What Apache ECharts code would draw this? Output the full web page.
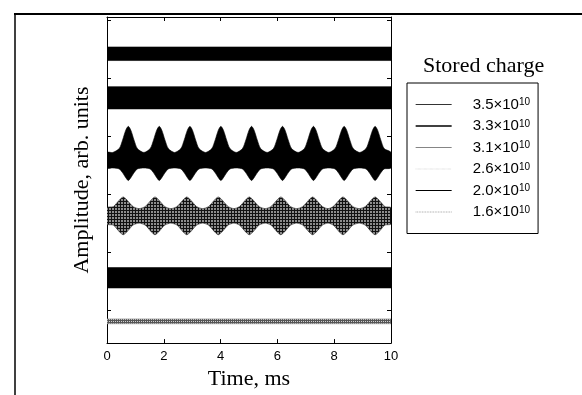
<!DOCTYPE html>
<html>
<head>
<meta charset="utf-8">
<script src="https://cdn.jsdelivr.net/npm/echarts@6/dist/echarts.min.js"></script>
<style>
  html, body { margin: 0; padding: 0; background: #fff; }
  #main { width: 582px; height: 395px; }
</style>
</head>
<body>
<div id="main"></div>
<script>
// time axis ticks (ms)
const xTicks = [0, 2, 4, 6, 8, 10];
// inner tick marks on the amplitude axis (no labels)
const yTicks = [3.4, 9.4, 15.4, 21.4, 27.4, 33.4];

// stored charge values for the legend (x10^10)
const charges = ['3.5', '3.3', '3.1', '2.6', '2.0', '1.6'];

// flat bands: start / end times, lower and upper envelope
const tFlat = [0, 10];
const lo35 = [29.2, 29.2], hi35 = [30.6, 30.6];
const lo33 = [24.2, 24.2], hi33 = [26.5, 26.5];
const lo20 = [5.7, 5.7],   hi20 = [7.8, 7.8];
const lo16 = [2.0, 2.0],   hi16 = [2.5, 2.5];

// 3.1x10^10 : modulated band, envelope
const t31 = [0, 0.2,
  0.43, 0.55, 0.66, 0.75, 0.84, 0.95, 1.07, 1.30,
  1.52, 1.64, 1.75, 1.84, 1.93, 2.04, 2.16, 2.38,
  2.60, 2.72, 2.83, 2.92, 3.01, 3.12, 3.24, 3.47,
  3.69, 3.81, 3.92, 4.01, 4.10, 4.21, 4.33, 4.55,
  4.77, 4.89, 5.00, 5.09, 5.18, 5.29, 5.41, 5.64,
  5.86, 5.98, 6.09, 6.18, 6.27, 6.38, 6.50, 6.73,
  6.95, 7.07, 7.18, 7.27, 7.36, 7.47, 7.59, 7.81,
  8.03, 8.15, 8.26, 8.35, 8.44, 8.55, 8.67, 8.90,
  9.12, 9.24, 9.35, 9.44, 9.53, 9.64, 9.76, 10];
const hi31 = [19.7, 19.7,
  20.1, 21.0, 22.0, 22.4, 22.0, 21.0, 20.1, 19.7,
  20.1, 21.0, 22.0, 22.4, 22.0, 21.0, 20.1, 19.7,
  20.1, 21.0, 22.0, 22.4, 22.0, 21.0, 20.1, 19.7,
  20.1, 21.0, 22.0, 22.4, 22.0, 21.0, 20.1, 19.7,
  20.1, 21.0, 22.0, 22.4, 22.0, 21.0, 20.1, 19.7,
  20.1, 21.0, 22.0, 22.4, 22.0, 21.0, 20.1, 19.7,
  20.1, 21.0, 22.0, 22.4, 22.0, 21.0, 20.1, 19.7,
  20.1, 21.0, 22.0, 22.4, 22.0, 21.0, 20.1, 19.7,
  20.1, 21.0, 22.0, 22.4, 22.0, 21.0, 20.1, 19.7];
const lo31 = [18.1, 18.1,
  18.0, 17.6, 17.1, 16.8, 17.1, 17.6, 18.0, 18.1,
  18.0, 17.6, 17.1, 16.8, 17.1, 17.6, 18.0, 18.1,
  18.0, 17.6, 17.1, 16.8, 17.1, 17.6, 18.0, 18.1,
  18.0, 17.6, 17.1, 16.8, 17.1, 17.6, 18.0, 18.1,
  18.0, 17.6, 17.1, 16.8, 17.1, 17.6, 18.0, 18.1,
  18.0, 17.6, 17.1, 16.8, 17.1, 17.6, 18.0, 18.1,
  18.0, 17.6, 17.1, 16.8, 17.1, 17.6, 18.0, 18.1,
  18.0, 17.6, 17.1, 16.8, 17.1, 17.6, 18.0, 18.1,
  18.0, 17.6, 17.1, 16.8, 17.1, 17.6, 18.0, 18.1];

// 2.6x10^10 : grey modulated band
const t26 = [0,
  0.22, 0.35, 0.47, 0.57, 0.67, 0.79, 0.92, 1.13,
  1.34, 1.47, 1.59, 1.69, 1.79, 1.91, 2.04, 2.25,
  2.46, 2.59, 2.71, 2.81, 2.91, 3.03, 3.16, 3.37,
  3.57, 3.70, 3.82, 3.92, 4.02, 4.14, 4.27, 4.47,
  4.66, 4.79, 4.91, 5.01, 5.11, 5.23, 5.36, 5.57,
  5.77, 5.90, 6.02, 6.12, 6.22, 6.34, 6.47, 6.68,
  6.89, 7.02, 7.14, 7.24, 7.34, 7.46, 7.59, 7.78,
  7.96, 8.09, 8.21, 8.31, 8.41, 8.53, 8.66, 8.88,
  9.09, 9.22, 9.34, 9.44, 9.54, 9.66, 9.79, 10];
const hi26 = [14.0,
  14.1, 14.5, 14.9, 15.1, 14.9, 14.5, 14.1, 13.9,
  14.1, 14.5, 14.9, 15.1, 14.9, 14.5, 14.1, 13.9,
  14.1, 14.5, 14.9, 15.1, 14.9, 14.5, 14.1, 13.9,
  14.1, 14.5, 14.9, 15.1, 14.9, 14.5, 14.1, 13.9,
  14.1, 14.5, 14.9, 15.1, 14.9, 14.5, 14.1, 13.9,
  14.1, 14.5, 14.9, 15.1, 14.9, 14.5, 14.1, 13.9,
  14.1, 14.5, 14.9, 15.1, 14.9, 14.5, 14.1, 13.9,
  14.1, 14.5, 14.9, 15.1, 14.9, 14.5, 14.1, 13.9,
  14.1, 14.5, 14.9, 15.1, 14.9, 14.5, 14.1, 14.0];
const lo26 = [12.3,
  12.2, 11.8, 11.4, 11.2, 11.4, 11.8, 12.2, 12.4,
  12.2, 11.8, 11.4, 11.2, 11.4, 11.8, 12.2, 12.4,
  12.2, 11.8, 11.4, 11.2, 11.4, 11.8, 12.2, 12.4,
  12.2, 11.8, 11.4, 11.2, 11.4, 11.8, 12.2, 12.4,
  12.2, 11.8, 11.4, 11.2, 11.4, 11.8, 12.2, 12.4,
  12.2, 11.8, 11.4, 11.2, 11.4, 11.8, 12.2, 12.4,
  12.2, 11.8, 11.4, 11.2, 11.4, 11.8, 12.2, 12.4,
  12.2, 11.8, 11.4, 11.2, 11.4, 11.8, 12.2, 12.4,
  12.2, 11.8, 11.4, 11.2, 11.4, 11.8, 12.2, 12.3];

// halftone-ish fills for the grey traces
function makePattern(size, base, dark) {
  const c = document.createElement('canvas');
  c.width = size; c.height = size;
  const ctx = c.getContext('2d');
  ctx.fillStyle = base;
  ctx.fillRect(0, 0, size, size);
  ctx.fillStyle = dark;
  ctx.fillRect(0, 0, size, 1);
  ctx.fillRect(0, 0, 1, size);
  return c;
}
const greyMesh = { image: makePattern(3, '#8c8c8c', '#111'), repeat: 'repeat' };
const greyDots = { image: makePattern(2, '#d0d0d0', '#555'), repeat: 'repeat' };

const bands = [
  { t: tFlat, lo: lo35, hi: hi35, fill: '#000', edge: '#000', smooth: 0 },
  { t: tFlat, lo: lo33, hi: hi33, fill: '#000', edge: '#000', smooth: 0 },
  { t: t31, lo: lo31, hi: hi31, fill: '#000', edge: '#000', smooth: 0.25 },
  { t: t26, lo: lo26, hi: hi26, fill: greyMesh, edge: '#333', smooth: 0.25 },
  { t: tFlat, lo: lo20, hi: hi20, fill: '#000', edge: '#000', smooth: 0 },
  { t: tFlat, lo: lo16, hi: hi16, fill: greyDots, edge: '#888', smooth: 0 }
];

// legend line looks
const legendLines = [
  { color: '#000', width: 0.8, type: 'solid' },
  { color: '#000', width: 1.3, type: 'solid' },
  { color: '#333', width: 0.6, type: 'solid' },
  { color: '#bbb', width: 0.6, type: 'dotted' },
  { color: '#000', width: 1.1, type: 'solid' },
  { color: '#888', width: 0.8, type: 'dotted' }
];

const series = [];
bands.forEach(function (b, i) {
  // envelope polygon: upper edge left to right, lower edge back
  series.push({
    type: 'custom', silent: true, clip: true,
    data: b.t.map(function (x, j) { return [x, b.hi[j], b.lo[j]]; }),
    encode: { x: 0, y: [1, 2] },
    renderItem: function (params, api) {
      if (params.dataIndex !== 0) return null;
      const pts = [];
      for (let j = 0; j < b.t.length; j++) pts.push(api.coord([b.t[j], b.hi[j]]));
      for (let j = b.t.length - 1; j >= 0; j--) pts.push(api.coord([b.t[j], b.lo[j]]));
      return {
        type: 'polygon',
        shape: { points: pts, smooth: b.smooth },
        style: { fill: b.fill, stroke: b.edge, lineWidth: 0.6 }
      };
    }
  });
  // legend entry
  series.push({
    type: 'line', name: charges[i], data: [], symbol: 'none', symbolSize: 0,
    lineStyle: legendLines[i], itemStyle: { color: legendLines[i].color }
  });
});

const serif = 'Liberation Serif';
const sans = 'Liberation Sans';

function plainAxis(extra) {
  return Object.assign({
    type: 'value',
    axisLine: { show: true, onZero: false, lineStyle: { color: '#000', width: 1 } },
    axisTick: { show: true, inside: true, length: 4, lineStyle: { color: '#000' } },
    axisLabel: { show: false },
    splitLine: { show: false }
  }, extra);
}

const chart = echarts.init(document.getElementById('main'));
chart.setOption({
  animation: false,
  backgroundColor: '#fff',
  title: {
    text: 'Stored charge',
    left: 418, top: 50,
    textStyle: { fontFamily: serif, fontSize: 22, fontWeight: 'normal', color: '#000' }
  },
  legend: {
    orient: 'vertical',
    left: 407, top: 83,
    width: 130,
    padding: [14, 8, 14, 8],
    borderColor: '#000', borderWidth: 1,
    itemWidth: 36, itemHeight: 14, itemGap: 6.5,
    itemStyle: { opacity: 0 },
    data: charges.map(function (c, i) {
      return { name: c, lineStyle: legendLines[i] };
    }),
    formatter: function (name) {
      return '{g|}{m|' + name + '×10}{s|10}';
    },
    textStyle: {
      rich: {
        g: { width: 16 },
        m: { fontFamily: sans, fontSize: 15, color: '#000', lineHeight: 14 },
        s: { fontFamily: sans, fontSize: 10, color: '#000', verticalAlign: 'top', lineHeight: 14 }
      }
    }
  },
  grid: { left: 107, right: 191, top: 17, bottom: 41 },
  xAxis: [
    plainAxis({
      min: 0, max: 10, interval: 2, position: 'bottom',
      name: 'Time, ms', nameLocation: 'middle', nameGap: 18,
      nameTextStyle: { fontFamily: serif, fontSize: 22, color: '#000' },
      axisLabel: { show: true, fontFamily: sans, fontSize: 13, color: '#000', margin: 7,
        formatter: function (v) { return xTicks.indexOf(v) >= 0 ? String(v) : ''; } }
    }),
    plainAxis({ min: 0, max: 10, interval: 2, position: 'top' })
  ],
  yAxis: [
    plainAxis({
      min: 0, max: 33.7, position: 'left',
      name: 'Amplitude, arb. units', nameLocation: 'middle', nameGap: 14,
      nameTextStyle: { fontFamily: serif, fontSize: 22, color: '#000' },
      axisTick: { show: true, inside: true, length: 4, customValues: yTicks, lineStyle: { color: '#000' } }
    }),
    plainAxis({
      min: 0, max: 33.7, position: 'right',
      axisTick: { show: true, inside: true, length: 4, customValues: yTicks, lineStyle: { color: '#000' } }
    })
  ],
  graphic: [
    { type: 'line', shape: { x1: 14, y1: 14, x2: 582, y2: 14 }, style: { stroke: '#000', lineWidth: 2 } },
    { type: 'line', shape: { x1: 15, y1: 14, x2: 15, y2: 395 }, style: { stroke: '#000', lineWidth: 1.5 } }
  ],
  series: series
});
</script>
</body>
</html>
